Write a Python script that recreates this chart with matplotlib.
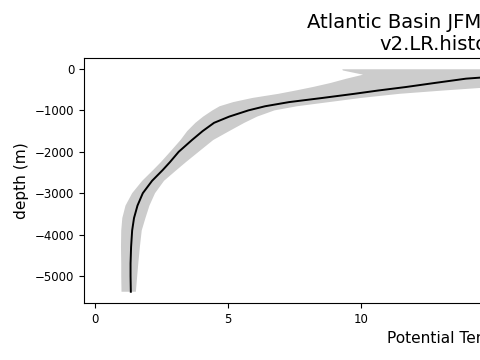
import matplotlib
matplotlib.use("Agg")
import matplotlib.pyplot as plt

# depth levels (m)
depth = [-7, -36, -138, -234, -340, -435, -520, -600, -700, -800, -900, -1000,
         -1150, -1300, -1500, -1715, -2000, -2250, -2440, -2700, -3000, -3300,
         -3600, -3900, -4300, -4700, -5000, -5380]
# mean potential temperature (degC)
temp_mean = [19.5, 18.7, 16.0, 13.95, 12.75, 11.7, 10.65, 9.75, 8.55, 7.3, 6.4, 5.77,
             5.05, 4.48, 4.05, 3.65, 3.15, 2.82, 2.55, 2.15, 1.8, 1.6,
             1.47, 1.40, 1.36, 1.34, 1.34, 1.35]
# lower / upper envelope
temp_low = [9.3, 9.32, 10.08, 9.46, 8.85, 8.2, 7.55, 6.9, 5.92, 5.2, 4.69, 4.42,
            4.07, 3.78, 3.47, 3.22, 2.83, 2.48, 2.19, 1.78, 1.40, 1.15,
            1.03, 0.99, 0.98, 0.99, 0.99, 1.0]
temp_high = [28.5, 27.5, 23.0, 19.5, 17.0, 15.0, 13.1, 11.45, 10.0, 8.8, 7.6, 6.75,
             6.1, 5.62, 5.05, 4.45, 3.9, 3.42, 3.07, 2.6, 2.26, 2.05,
             1.90, 1.76, 1.69, 1.63, 1.59, 1.54]

title_text = "Atlantic Basin JFM, years 1985-2014\nv2.LR.historical_0101"
xlabel_text = "Potential Temperature (°C)"
ylabel_text = "depth (m)"
xticks = [0, 5, 10, 15, 20, 25]
yticks = [0, -1000, -2000, -3000, -4000, -5000]

fig = plt.figure(figsize=(4.8, 3.6), dpi=100)
ax = fig.add_axes([0.175, 0.1583, 1.6665, 0.6806])

ax.fill_betweenx(depth, temp_low, temp_high, color="0.8", linewidth=0)
ax.plot(temp_mean, depth, color="black", linewidth=1.4)

ax.set_xlim(-0.41, 29.66)
ax.set_ylim(-5652, 265)
ax.set_xticks(xticks)
ax.set_yticks(yticks)
ax.tick_params(labelsize=8.5)
ax.set_xlabel(xlabel_text, fontsize=11.1)
ax.xaxis.label.set_x(0.507)
ax.set_ylabel(ylabel_text, fontsize=11.1)
ax.set_title(title_text, fontsize=14.1)

fig.savefig("out.png", dpi=100)
